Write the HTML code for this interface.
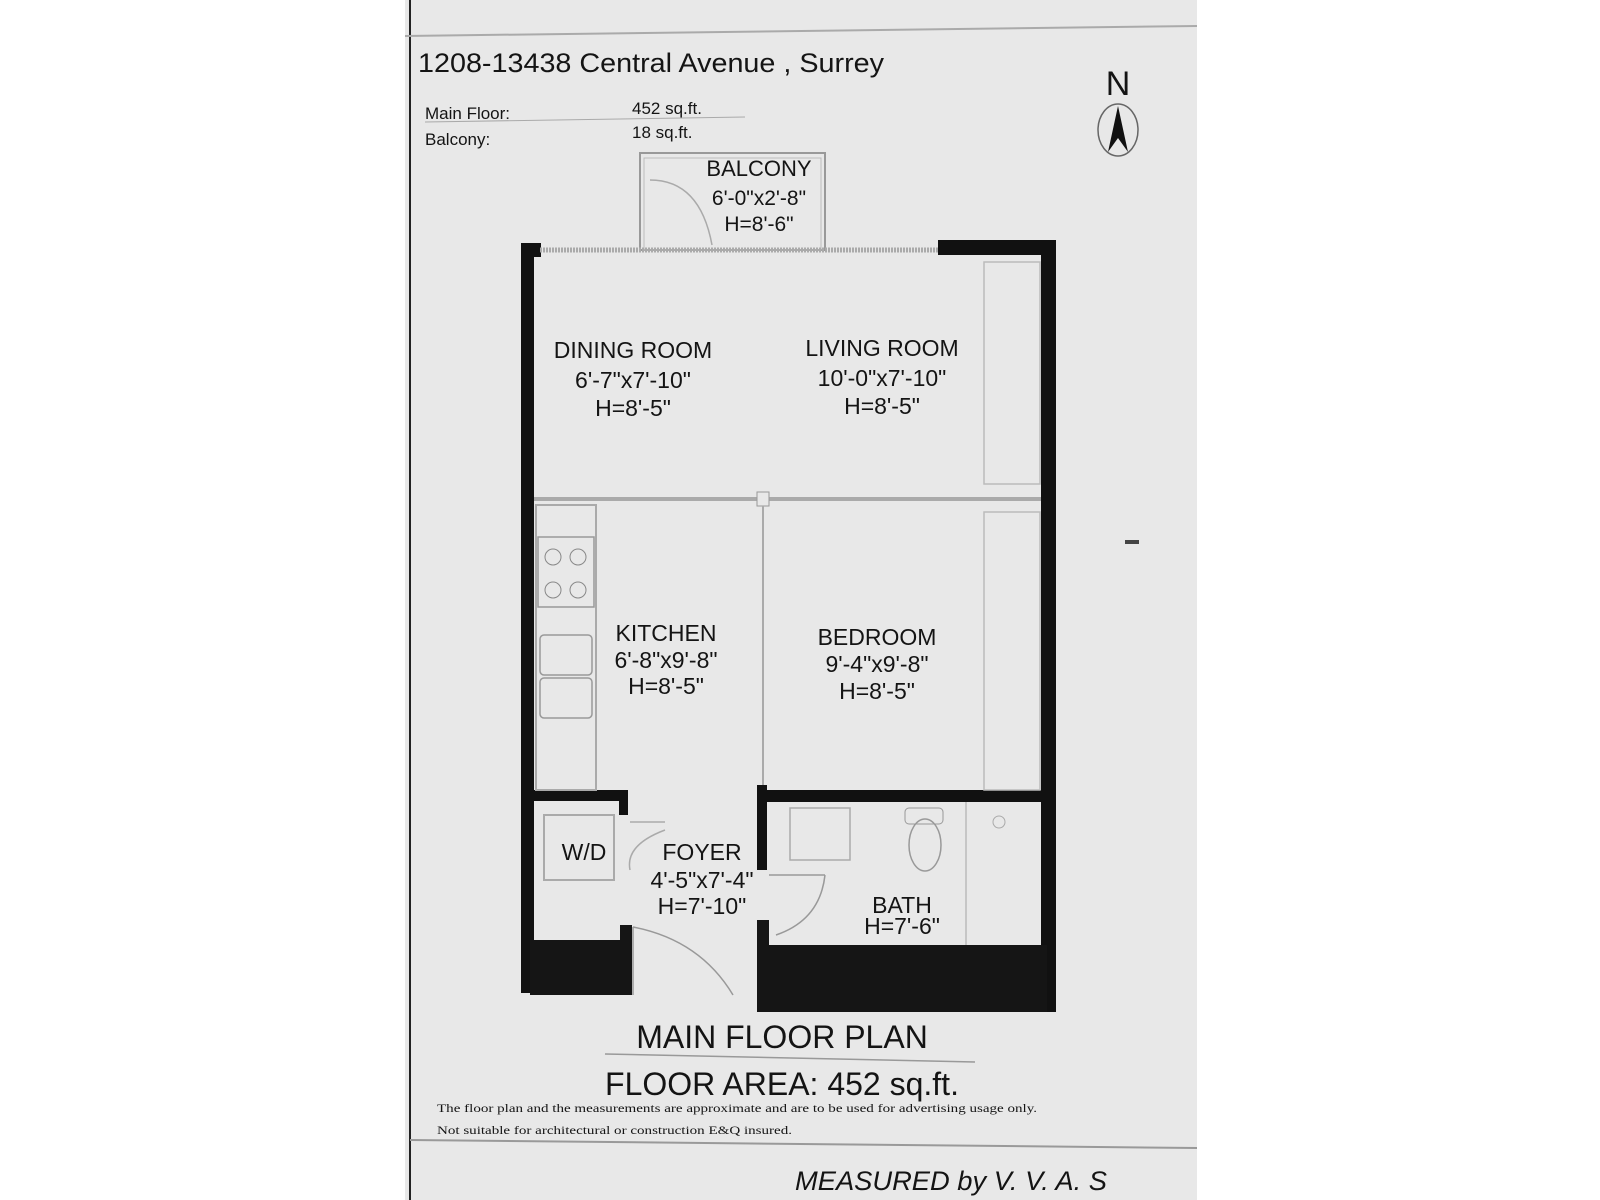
<!DOCTYPE html>
<html><head><meta charset="utf-8"><style>
html,body{margin:0;padding:0;background:#fff}
svg{display:block}
text{font-family:"Liberation Sans",sans-serif;fill:#141414}
</style></head><body>
<svg width="1600" height="1200" viewBox="0 0 1600 1200">
<rect x="0" y="0" width="1600" height="1200" fill="#ffffff"/>
<rect x="405" y="0" width="792" height="1200" fill="#e8e8e8"/>
<line x1="410" y1="0" x2="410" y2="1200" stroke="#222" stroke-width="2"/>
<line x1="405" y1="36" x2="1197" y2="26" stroke="#aaa" stroke-width="2"/>
<line x1="410" y1="1140" x2="1197" y2="1148" stroke="#999" stroke-width="2"/>

<text x="418" y="72" font-size="27" textLength="466" lengthAdjust="spacingAndGlyphs">1208-13438 Central Avenue , Surrey</text>
<text x="425" y="119" font-size="17">Main Floor:</text>
<text x="425" y="145" font-size="17">Balcony:</text>
<text x="632" y="114" font-size="17">452 sq.ft.</text>
<text x="632" y="138" font-size="17">18 sq.ft.</text>
<line x1="425" y1="122" x2="745" y2="117" stroke="#aaa" stroke-width="1"/>

<text x="1118" y="95" font-size="34" text-anchor="middle">N</text>
<ellipse cx="1118" cy="130" rx="20" ry="26" fill="none" stroke="#666" stroke-width="1.5"/>
<polygon points="1118,106 1108,152 1118,138 1128,152" fill="#111"/>

<rect x="1125" y="540" width="14" height="4" fill="#444"/>

<!-- balcony -->
<rect x="640" y="153" width="185" height="97" fill="none" stroke="#999" stroke-width="2"/>
<rect x="644" y="158" width="177" height="92" fill="none" stroke="#bbb" stroke-width="1"/>
<path d="M650 180 Q700 180 712 245" fill="none" stroke="#aaa" stroke-width="1.5"/>
<text x="759" y="176" font-size="22" text-anchor="middle">BALCONY</text>
<text x="759" y="205" font-size="21" text-anchor="middle">6'-0"x2'-8"</text>
<text x="759" y="231" font-size="21" text-anchor="middle">H=8'-6"</text>

<!-- walls -->
<rect x="521" y="243" width="13" height="750" fill="#111"/>
<rect x="521" y="243" width="20" height="14" fill="#111"/>
<rect x="938" y="240" width="118" height="15" fill="#111"/>
<rect x="1041" y="240" width="15" height="772" fill="#111"/>
<line x1="540" y1="250" x2="938" y2="250" stroke="#aaa" stroke-width="5" stroke-dasharray="2 1"/>
<rect x="530" y="940" width="98" height="55" fill="#151515"/>
<rect x="620" y="925" width="12" height="70" fill="#151515"/>
<rect x="757" y="945" width="290" height="67" fill="#151515"/>
<rect x="757" y="920" width="12" height="30" fill="#151515"/>
<rect x="530" y="790" width="98" height="11" fill="#111"/>
<rect x="619" y="790" width="9" height="25" fill="#111"/>
<rect x="757" y="790" width="290" height="12" fill="#111"/>
<rect x="757" y="785" width="10" height="85" fill="#111"/>

<!-- partitions -->
<line x1="534" y1="499" x2="1041" y2="499" stroke="#aaa" stroke-width="4"/>
<rect x="757" y="492" width="12" height="14" fill="#e8e8e8" stroke="#999"/>
<line x1="763" y1="506" x2="763" y2="785" stroke="#aaa" stroke-width="2"/>
<rect x="984" y="262" width="56" height="222" fill="none" stroke="#bbb" stroke-width="1.5"/>
<rect x="984" y="512" width="56" height="278" fill="none" stroke="#bbb" stroke-width="1.5"/>
<rect x="536" y="505" width="60" height="285" fill="none" stroke="#aaa" stroke-width="2"/>
<rect x="538" y="537" width="56" height="70" fill="none" stroke="#999" stroke-width="1.5"/>
<circle cx="553" cy="557" r="8" fill="none" stroke="#888"/><circle cx="578" cy="557" r="8" fill="none" stroke="#888"/>
<circle cx="553" cy="590" r="8" fill="none" stroke="#888"/><circle cx="578" cy="590" r="8" fill="none" stroke="#888"/>
<rect x="540" y="635" width="52" height="40" rx="4" fill="none" stroke="#999" stroke-width="1.5"/>
<rect x="540" y="678" width="52" height="40" rx="4" fill="none" stroke="#999" stroke-width="1.5"/>
<rect x="544" y="815" width="70" height="65" fill="none" stroke="#aaa" stroke-width="2"/>
<rect x="790" y="808" width="60" height="52" fill="none" stroke="#aaa" stroke-width="1.5"/>
<ellipse cx="925" cy="845" rx="16" ry="26" fill="none" stroke="#999" stroke-width="1.5"/>
<rect x="905" y="808" width="38" height="16" rx="4" fill="none" stroke="#999"/>
<line x1="966" y1="802" x2="966" y2="945" stroke="#bbb" stroke-width="1.5"/>
<circle cx="999" cy="822" r="6" fill="none" stroke="#aaa"/>
<path d="M769 875 L825 875 M825 875 Q820 920 776 935" fill="none" stroke="#999" stroke-width="1.5"/>
<path d="M633 927 L633 995 M633 927 Q700 940 733 995" fill="none" stroke="#999" stroke-width="1.5"/>
<path d="M630 822 L665 822 M630 870 Q625 845 665 830" fill="none" stroke="#aaa" stroke-width="1.5"/>

<g font-size="23" text-anchor="middle">
<text x="633" y="358">DINING ROOM</text>
<text x="633" y="388">6'-7"x7'-10"</text>
<text x="633" y="416">H=8'-5"</text>
<text x="882" y="356">LIVING ROOM</text>
<text x="882" y="386">10'-0"x7'-10"</text>
<text x="882" y="414">H=8'-5"</text>
<text x="666" y="641">KITCHEN</text>
<text x="666" y="668">6'-8"x9'-8"</text>
<text x="666" y="694">H=8'-5"</text>
<text x="877" y="645">BEDROOM</text>
<text x="877" y="672">9'-4"x9'-8"</text>
<text x="877" y="699">H=8'-5"</text>
<text x="584" y="860">W/D</text>
<text x="702" y="860">FOYER</text>
<text x="702" y="888">4'-5"x7'-4"</text>
<text x="702" y="914">H=7'-10"</text>
<text x="902" y="913">BATH</text>
<text x="902" y="934">H=7'-6"</text>
</g>

<text x="782" y="1048" font-size="32" text-anchor="middle">MAIN FLOOR PLAN</text>
<line x1="605" y1="1054" x2="975" y2="1062" stroke="#999" stroke-width="1.5"/>
<text x="782" y="1095" font-size="32" text-anchor="middle">FLOOR AREA: 452 sq.ft.</text>
<text x="437" y="1112" font-size="12" textLength="600" lengthAdjust="spacingAndGlyphs" style="font-family:'Liberation Serif',serif">The floor plan and the measurements are approximate and are to be used for advertising usage only.</text>
<text x="437" y="1134" font-size="12" textLength="355" lengthAdjust="spacingAndGlyphs" style="font-family:'Liberation Serif',serif">Not suitable for architectural or construction E&amp;Q insured.</text>
<text x="795" y="1190" font-size="27" font-style="italic" textLength="312" lengthAdjust="spacingAndGlyphs">MEASURED by V. V. A. S</text>
</svg>
</body></html>
